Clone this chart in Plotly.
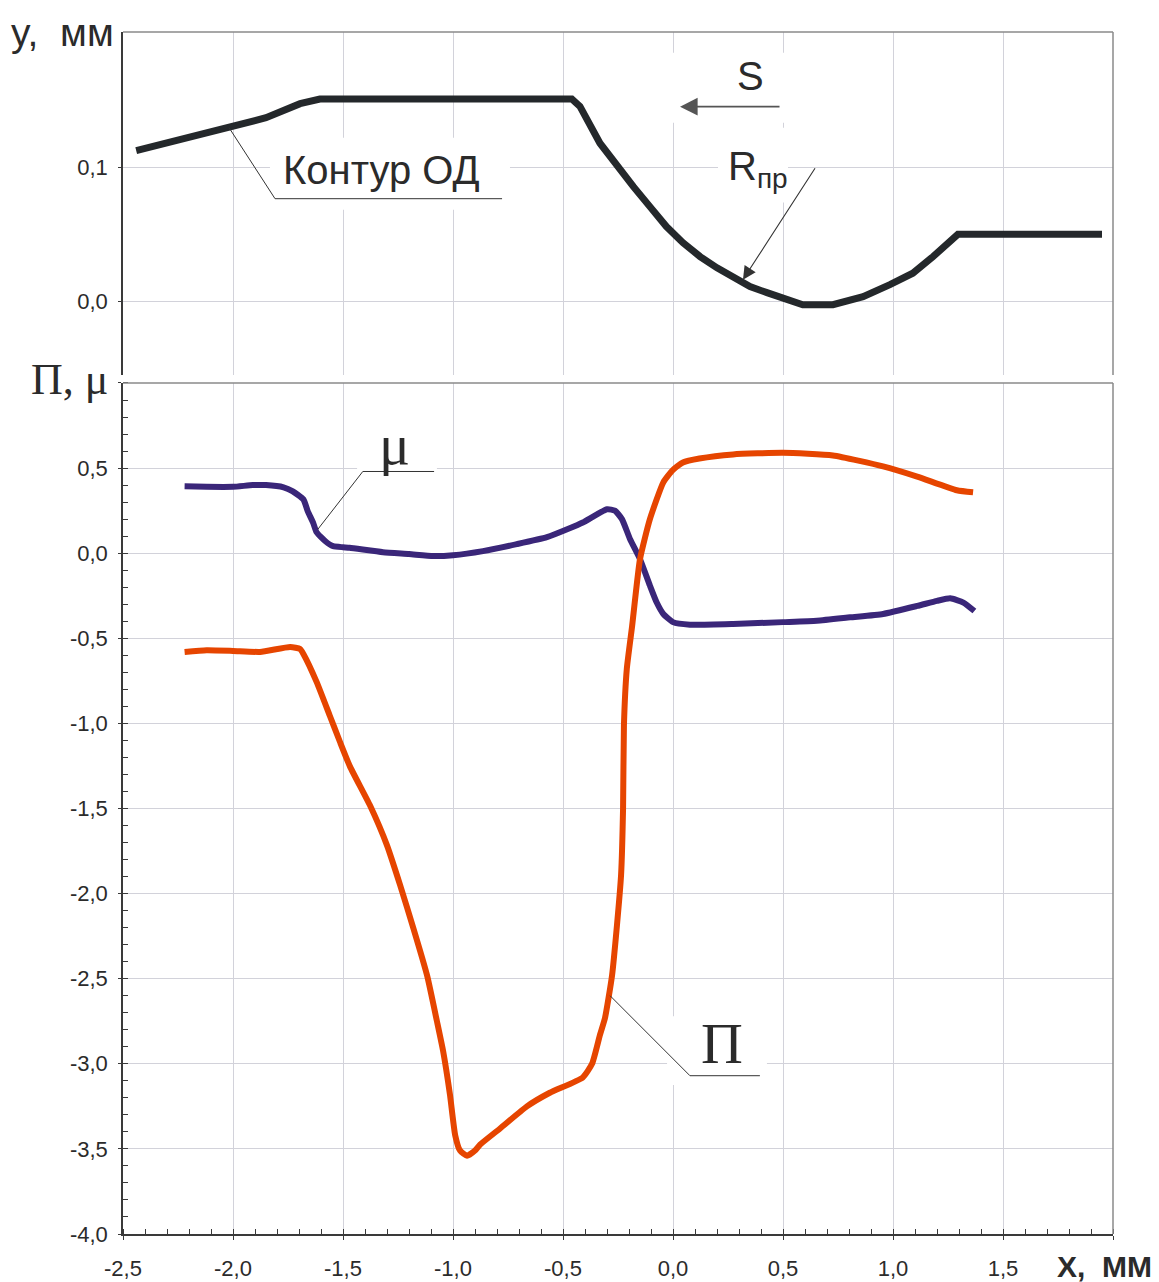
import plotly.graph_objects as go

# ---- data -------------------------------------------------------------
# Profile of the contour (top panel), x and y in mm
contour_x = [-2.44, -2.2, -2.014, -1.85, -1.695, -1.605, -0.46, -0.423, -0.332, -0.255,
             -0.18, -0.105, -0.03, 0.045, 0.123, 0.2, 0.273, 0.35, 0.427, 0.52,
             0.59, 0.727, 0.864, 0.986, 1.09, 1.182, 1.282, 1.295, 1.95]
contour_y = [0.1125, 0.122, 0.1296, 0.137, 0.1475, 0.151, 0.151, 0.1455, 0.118, 0.1005,
             0.0856, 0.0707, 0.0558, 0.0438, 0.0334, 0.025, 0.0177, 0.011, 0.0065, 0.001,
             -0.0025, -0.0025, 0.0035, 0.0125, 0.021, 0.0334, 0.0483, 0.05, 0.05]

# Friction coefficient mu along x
mu_x = [-2.22, -2.12, -2.0, -1.91, -1.85, -1.77, -1.73, -1.68, -1.66, -1.636,
        -1.62, -1.58, -1.545, -1.5, -1.47, -1.318, -1.2, -1.09, -1.0, -0.864,
        -0.71, -0.573, -0.47, -0.41, -0.3, -0.264, -0.232, -0.195, -0.15, -0.105,
        -0.074, -0.044, 0.0, 0.077, 0.273, 0.5, 0.654, 0.805, 0.955, 1.11,
        1.2, 1.26, 1.32, 1.37]
mu_y = [0.393, 0.39, 0.39, 0.40, 0.40, 0.387, 0.365, 0.316, 0.246, 0.18,
        0.123, 0.07, 0.041, 0.035, 0.032, 0.006, -0.005, -0.017, -0.012, 0.012,
        0.053, 0.094, 0.146, 0.18, 0.258, 0.25, 0.2, 0.082, -0.035, -0.19,
        -0.29, -0.357, -0.405, -0.42, -0.416, -0.405, -0.397, -0.377, -0.357, -0.31,
        -0.28, -0.265, -0.29, -0.34]

# Stress state index П along x
p_x = [-2.22, -2.12, -2.0, -1.877, -1.74, -1.695, -1.68, -1.62, -1.56, -1.514,
       -1.468, -1.377, -1.3, -1.24, -1.18, -1.118, -1.073, -1.045, -1.014, -0.99,
       -0.968, -0.936, -0.9, -0.877, -0.786, -0.664, -0.56, -0.41, -0.368, -0.332,
       -0.309, -0.277, -0.255, -0.236, -0.227, -0.223, -0.21, -0.186, -0.15, -0.105,
       -0.044, 0.0, 0.045, 0.12, 0.273, 0.5, 0.727, 0.955, 1.11, 1.29, 1.364]
p_y = [-0.58, -0.57, -0.574, -0.58, -0.551, -0.563, -0.592, -0.756, -0.955, -1.108,
       -1.254, -1.483, -1.717, -1.952, -2.204, -2.48, -2.75, -2.925, -3.18, -3.42,
       -3.51, -3.54, -3.51, -3.475, -3.38, -3.25, -3.17, -3.08, -3.0, -2.83,
       -2.73, -2.48, -2.19, -1.89, -1.50, -1.01, -0.68, -0.43, -0.035, 0.2,
       0.416, 0.49, 0.533, 0.556, 0.58, 0.59, 0.574, 0.51, 0.45, 0.37, 0.358]

# Axis ticks
x_tick_vals = [-2.5, -2.0, -1.5, -1.0, -0.5, 0.0, 0.5, 1.0, 1.5, 2.0]
x_tick_text = ["-2,5", "-2,0", "-1,5", "-1,0", "-0,5", "0,0", "0,5", "1,0", "1,5", ""]
y_top_tick_vals = [0.0, 0.1]
y_top_tick_text = ["0,0", "0,1"]
y_bot_tick_vals = [-4.0, -3.5, -3.0, -2.5, -2.0, -1.5, -1.0, -0.5, 0.0, 0.5, 1.0]
y_bot_tick_text = ["-4,0", "-3,5", "-3,0", "-2,5", "-2,0", "-1,5", "-1,0", "-0,5", "0,0", "0,5", ""]

# ---- styling ----------------------------------------------------------
GRID = "#d2d2da"
AXIS = "#3a3a3a"
BORDER = "#8a8a8a"
TXT = "#2b2b2b"
SANS = "Liberation Sans, Arial, sans-serif"
SERIF = "Liberation Serif, Times New Roman, serif"
TICKFONT = dict(family=SANS, size=22, color=TXT)

fig = go.Figure()

fig.add_trace(go.Scatter(x=contour_x, y=contour_y, xaxis="x", yaxis="y", mode="lines",
                         line=dict(color="#24282b", width=7), hoverinfo="skip"))
fig.add_trace(go.Scatter(x=mu_x, y=mu_y, xaxis="x2", yaxis="y2", mode="lines",
                         line=dict(color="#3a2679", width=6, shape="spline", smoothing=0.5),
                         hoverinfo="skip"))
fig.add_trace(go.Scatter(x=p_x, y=p_y, xaxis="x2", yaxis="y2", mode="lines",
                         line=dict(color="#e64500", width=6, shape="spline", smoothing=0.5),
                         hoverinfo="skip"))

TOP_DOM = [0.7146, 1.0]
BOT_DOM = [0.0, 0.708]

fig.update_layout(
    width=1159, height=1282,
    margin=dict(l=123, r=46, t=32, b=48, autoexpand=False),
    paper_bgcolor="white", plot_bgcolor="white",
    showlegend=False,
    xaxis=dict(domain=[0, 1], anchor="y", range=[-2.5, 2.0], tickvals=x_tick_vals,
               showticklabels=False, ticks="", showgrid=True, gridcolor=GRID, gridwidth=1.3,
               showline=False, zeroline=False, automargin=False),
    yaxis=dict(domain=TOP_DOM, anchor="x", range=[-0.055, 0.201], tickvals=y_top_tick_vals,
               ticktext=y_top_tick_text, tickfont=TICKFONT, ticks="outside", ticklen=3,
               tickcolor=AXIS, ticklabelstandoff=6, showgrid=True, gridcolor=GRID,
               gridwidth=1.3, showline=True, linecolor=AXIS, linewidth=1.5, zeroline=False,
               automargin=False),
    xaxis2=dict(domain=[0, 1], anchor="y2", range=[-2.5, 2.0], tickvals=x_tick_vals,
                ticktext=x_tick_text, tickfont=TICKFONT, ticks="outside", ticklen=4,
                tickcolor=AXIS, ticklabelstandoff=10, showgrid=True, gridcolor=GRID,
                gridwidth=1.3, showline=True, linecolor=AXIS, linewidth=1.5, zeroline=False,
                automargin=False,
                minor=dict(dtick=0.1, tick0=-2.5, ticks="inside", ticklen=5,
                           tickcolor=AXIS, showgrid=False)),
    yaxis2=dict(domain=BOT_DOM, anchor="x2", range=[-4.0, 1.0], tickvals=y_bot_tick_vals,
                ticktext=y_bot_tick_text, tickfont=TICKFONT, ticks="outside", ticklen=3,
                tickcolor=AXIS, ticklabelstandoff=6, showgrid=True, gridcolor=GRID,
                gridwidth=1.3, showline=True, linecolor=AXIS, linewidth=1.5, zeroline=False,
                automargin=False,
                minor=dict(dtick=0.1, tick0=0, ticks="inside", ticklen=5,
                           tickcolor=AXIS, showgrid=False)),
)

shapes = []
# light frame on top and right side of each panel
for dom in (TOP_DOM, BOT_DOM):
    shapes.append(dict(type="line", xref="paper", yref="paper", x0=0, x1=1, y0=dom[1], y1=dom[1],
                       line=dict(color=BORDER, width=1.5), layer="above"))
    shapes.append(dict(type="line", xref="paper", yref="paper", x0=1, x1=1, y0=dom[0], y1=dom[1],
                       line=dict(color=BORDER, width=1.5), layer="above"))

# white label backgrounds that break the grid
label_boxes = [
    ("x", "y", -1.832, -0.741, 0.0684, 0.122),     # Контур ОД
    ("x", "y", -0.014, 0.532, 0.1333, 0.1856),     # S
    ("x", "y", 0.2045, 0.5227, 0.0737, 0.1296),    # R_пр
    ("x2", "y2", -1.436, -1.073, 0.48, 0.81),      # mu
    ("x2", "y2", -0.027, 0.427, -3.124, -2.72),    # П
]
for xr, yr, x0, x1, y0, y1 in label_boxes:
    shapes.append(dict(type="rect", xref=xr, yref=yr, x0=x0, x1=x1, y0=y0, y1=y1,
                       fillcolor="white", line=dict(width=0), layer="between"))

# leader lines with underlines
LEAD = dict(color="#333333", width=1)
leaders = [
    ("x", "y", [(-2.018, 0.1296), (-1.809, 0.0766), (-0.777, 0.0766)]),
    ("x2", "y2", [(-1.614, 0.141), (-1.41, 0.48), (-1.086, 0.48)]),
    ("x2", "y2", [(-0.286, -2.60), (0.077, -3.07), (0.395, -3.07)]),
]
for xr, yr, pts in leaders:
    for (xa, ya), (xb, yb) in zip(pts[:-1], pts[1:]):
        shapes.append(dict(type="line", xref=xr, yref=yr, x0=xa, y0=ya, x1=xb, y1=yb,
                           line=LEAD, layer="above"))

fig.update_layout(shapes=shapes)

annotations = [
    # axis titles
    dict(xref="paper", yref="paper", x=-0.115, y=1.0, xanchor="left", yanchor="middle",
         text="y,  мм", showarrow=False, font=dict(family=SANS, size=39, color=TXT)),
    dict(xref="paper", yref="paper", x=-0.095, y=BOT_DOM[1] + 0.003, xanchor="left",
         yanchor="middle", text="П, μ", showarrow=False,
         font=dict(family=SERIF, size=44, color=TXT)),
    dict(xref="paper", yref="paper", x=0.941, y=-0.027, xanchor="left", yanchor="middle",
         text="X,  ММ", showarrow=False,
         font=dict(family=SANS, size=30, color=TXT, weight="bold")),
    # curve labels
    dict(xref="x", yref="y", x=-1.327, y=0.098, text="Контур ОД", showarrow=False,
         font=dict(family=SANS, size=40, color=TXT)),
    dict(xref="x", yref="y", x=0.35, y=0.168, text="S", showarrow=False,
         font=dict(family=SANS, size=40, color=TXT)),
    dict(xref="x", yref="y", x=0.386, y=0.099, text="R<sub>пр</sub>", showarrow=False,
         font=dict(family=SANS, size=40, color=TXT)),
    dict(xref="x2", yref="y2", x=-1.264, y=0.64, text="μ", showarrow=False,
         font=dict(family=SERIF, size=58, color=TXT)),
    dict(xref="x2", yref="y2", x=0.223, y=-2.88, text="П", showarrow=False,
         font=dict(family=SERIF, size=58, color=TXT)),
    # direction arrow S
    dict(xref="x", yref="y", axref="x", ayref="y", x=0.032, y=0.1453, ax=0.491, ay=0.1453,
         text="", showarrow=True, arrowhead=2, arrowsize=2.2, arrowwidth=1.6,
         arrowcolor="#555555"),
    # radius arrow R_пр
    dict(xref="x", yref="y", axref="x", ayref="y", x=0.318, y=0.0162, ax=0.65, ay=0.1004,
         text="", showarrow=True, arrowhead=2, arrowsize=2.4, arrowwidth=1.1,
         arrowcolor="#333333"),
]
fig.update_layout(annotations=annotations)

fig.write_html("out.html")
